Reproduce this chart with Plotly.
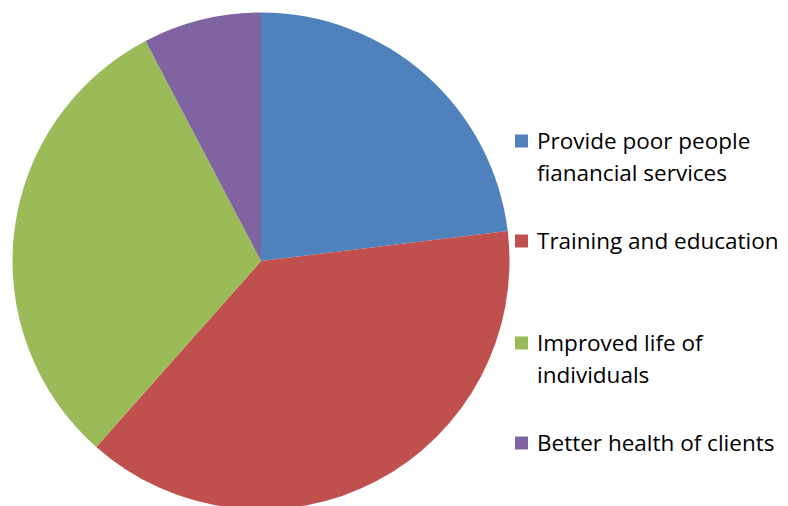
import plotly.graph_objects as go

labels = ["Provide poor people<br>fianancial services", "Training and education",
          "Improved life of<br>individuals", "Better health of clients"]
values = [3, 5, 4, 1]
colors = ["#4F81BD", "#C0504D", "#9BBB59", "#8064A2"]

W, H = 780, 506
OFF = 8  # page body margin offset
cx, r = 261 - OFF, 248.5

fig = go.Figure(go.Pie(
    labels=labels, values=values, sort=False, direction="clockwise", rotation=0,
    marker=dict(colors=colors, line=dict(width=0)), textinfo="none",
    hoverinfo="label+percent", showlegend=False,
    domain=dict(x=[(cx - r) / W, (cx + r) / W], y=[0, 1]),
))

# legend layout (pixel positions of first-line centers)
leg_y = [141, 241, 343, 443]
line_h = 32
shapes, annos = [], []
for lab, col, y0 in zip(labels, colors, leg_y):
    y0 -= OFF
    shapes.append(dict(type="rect", xref="paper", yref="paper",
                       x0=(515 - OFF) / W, x1=(528 - OFF) / W,
                       y0=1 - (y0 + 6.5) / H, y1=1 - (y0 - 6.5) / H,
                       fillcolor=col, line=dict(width=0)))
    for i, ln in enumerate(lab.split("<br>")):
        annos.append(dict(text=ln, xref="paper", yref="paper", x=(535 - OFF) / W,
                          y=1 - (y0 - 1 + i * line_h) / H, xanchor="left", yanchor="middle",
                          showarrow=False, font=dict(family="Open Sans", size=22.5, color="#000000")))

fig.update_layout(width=W, height=H, margin=dict(l=0, r=0, t=0, b=0),
                  paper_bgcolor="white", plot_bgcolor="white",
                  shapes=shapes, annotations=annos)
fig.write_html("out.html")
